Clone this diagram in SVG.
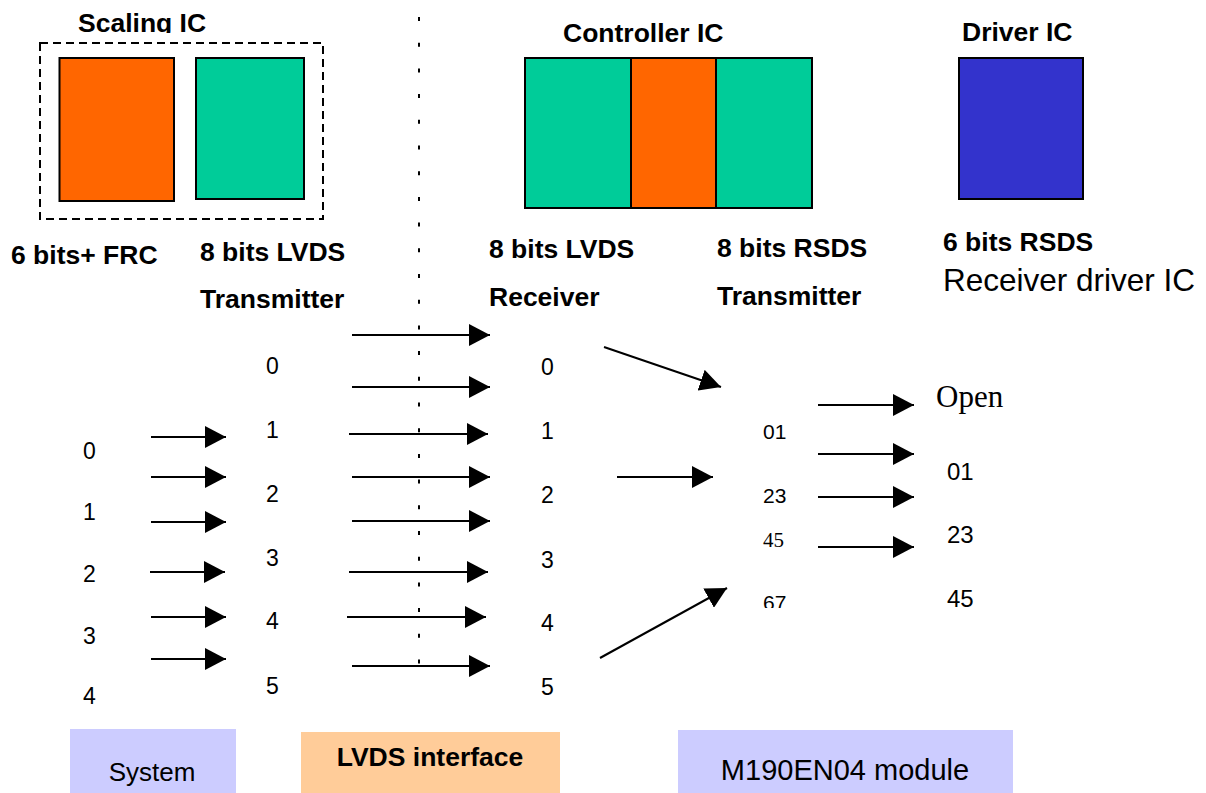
<svg xmlns="http://www.w3.org/2000/svg" width="1206" height="793" viewBox="0 0 1206 793">
<style>
.b{font-family:"Liberation Sans",Arial,sans-serif;font-weight:bold;font-size:26.5px;fill:#000}
.r{font-family:"Liberation Sans",Arial,sans-serif;font-size:23px;fill:#000}
.s{font-family:"Liberation Serif","Times New Roman",serif;fill:#000}
.blk{stroke:#000;stroke-width:2}
.ar{stroke:#000;stroke-width:2;fill:none;marker-end:url(#ah)}
</style>
<defs>
<marker id="ah" markerUnits="userSpaceOnUse" markerWidth="22" markerHeight="22" refX="21" refY="11" orient="auto" viewBox="0 0 22 22">
<path d="M0,0 L21,11 L0,22 Z" fill="#000"/>
</marker>
<clipPath id="clipTop"><rect x="0" y="0" width="1206" height="33"/></clipPath>
<clipPath id="clip67"><rect x="740" y="560" width="100" height="48"/></clipPath>
</defs>
<rect width="1206" height="793" fill="#fff"/>

<g id="scaling-ic">
<text class="b" x="78" y="32" clip-path="url(#clipTop)">Scaling IC</text>
<rect x="40" y="43" width="283" height="176" fill="none" stroke="#000" stroke-width="2" stroke-dasharray="8 5"/>
<rect x="59.5" y="58" width="114.5" height="143" fill="#FF6600" class="blk"/>
<rect x="196" y="58" width="108" height="141" fill="#00CC99" class="blk"/>
<text class="b" x="11" y="264">6 bits+ FRC</text>
<text class="b" x="200" y="261">8 bits LVDS</text>
<text class="b" x="200" y="308">Transmitter</text>
</g>

<g id="controller-ic">
<text class="b" x="563" y="42">Controller IC</text>
<rect x="525" y="58" width="106" height="150" fill="#00CC99" class="blk"/>
<rect x="631" y="58" width="85" height="150" fill="#FF6600" class="blk"/>
<rect x="716" y="58" width="96" height="150" fill="#00CC99" class="blk"/>
<text class="b" x="489" y="258">8 bits LVDS</text>
<text class="b" x="489" y="306">Receiver</text>
<text class="b" x="717" y="257">8 bits RSDS</text>
<text class="b" x="717" y="305">Transmitter</text>
</g>

<g id="driver-ic">
<text class="b" x="962" y="41">Driver IC</text>
<rect x="959" y="58" width="124" height="141" fill="#3333CC" class="blk"/>
<text class="b" x="943" y="251">6 bits RSDS</text>
<text class="r" x="943" y="291" style="font-size:31.5px">Receiver driver IC</text>
</g>

<g id="divider">
<line x1="419" y1="17" x2="419" y2="670" stroke="#000" stroke-width="2" stroke-dasharray="4 21.7"/>
</g>

<g id="system-bits">
<text class="r" x="83" y="459">0</text>
<text class="r" x="83" y="520">1</text>
<text class="r" x="83" y="582">2</text>
<text class="r" x="83" y="644">3</text>
<text class="r" x="83" y="704">4</text>
</g>

<g id="transmitter-bits">
<text class="r" x="266" y="374">0</text>
<text class="r" x="266" y="438">1</text>
<text class="r" x="266" y="502">2</text>
<text class="r" x="266" y="566">3</text>
<text class="r" x="266" y="629">4</text>
<text class="r" x="266" y="694">5</text>
</g>

<g id="receiver-bits">
<text class="r" x="541" y="375">0</text>
<text class="r" x="541" y="439">1</text>
<text class="r" x="541" y="503">2</text>
<text class="r" x="541" y="568">3</text>
<text class="r" x="541" y="631">4</text>
<text class="r" x="541" y="695">5</text>
</g>

<g id="rsds-pairs">
<text class="r" x="763" y="439" style="font-size:21px">01</text>
<text class="r" x="763" y="503" style="font-size:21px">23</text>
<text class="s" x="763" y="547" style="font-size:21px">45</text>
<text class="r" x="763" y="610" style="font-size:21px" clip-path="url(#clip67)">67</text>
</g>

<g id="driver-outputs">
<text class="s" x="936" y="407" style="font-size:31px">Open</text>
<text class="r" x="947" y="480" style="font-size:24px">01</text>
<text class="r" x="947" y="543" style="font-size:24px">23</text>
<text class="r" x="947" y="607" style="font-size:24px">45</text>
</g>

<g id="connectors">
<line class="ar" x1="151" y1="437" x2="226" y2="437"/>
<line class="ar" x1="151" y1="477" x2="226" y2="477"/>
<line class="ar" x1="151" y1="522" x2="226" y2="522"/>
<line class="ar" x1="150" y1="572" x2="225" y2="572"/>
<line class="ar" x1="151" y1="617" x2="226" y2="617"/>
<line class="ar" x1="151" y1="659" x2="226" y2="659"/>

<line class="ar" x1="352" y1="335" x2="490" y2="335"/>
<line class="ar" x1="352" y1="387" x2="490" y2="387"/>
<line class="ar" x1="349" y1="434" x2="488" y2="434"/>
<line class="ar" x1="352" y1="477" x2="490" y2="477"/>
<line class="ar" x1="352" y1="521" x2="490" y2="521"/>
<line class="ar" x1="349" y1="572" x2="488" y2="572"/>
<line class="ar" x1="347" y1="617" x2="486" y2="617"/>
<line class="ar" x1="352" y1="666" x2="490" y2="666"/>

<line class="ar" x1="604" y1="347" x2="721" y2="387"/>
<line class="ar" x1="617" y1="477" x2="713" y2="477"/>
<line class="ar" x1="600" y1="658" x2="727" y2="588"/>

<line class="ar" x1="818" y1="405" x2="914" y2="405"/>
<line class="ar" x1="818" y1="454" x2="914" y2="454"/>
<line class="ar" x1="818" y1="497" x2="914" y2="497"/>
<line class="ar" x1="818" y1="547" x2="914" y2="547"/>
</g>

<g id="system">
<rect x="70" y="729" width="166" height="64" fill="#CCCCFF"/>
<text class="r" x="152" y="781" text-anchor="middle" style="font-size:26px">System</text>
</g>
<g id="lvds-interface">
<rect x="301" y="732" width="259" height="61" fill="#FFCC99"/>
<text class="b" x="430" y="766" text-anchor="middle" style="font-size:26.5px">LVDS interface</text>
</g>
<g id="m190en04-module">
<rect x="678" y="730" width="335" height="63" fill="#CCCCFF"/>
<text class="r" x="845" y="780" text-anchor="middle" style="font-size:29px">M190EN04 module</text>
</g>
</svg>
